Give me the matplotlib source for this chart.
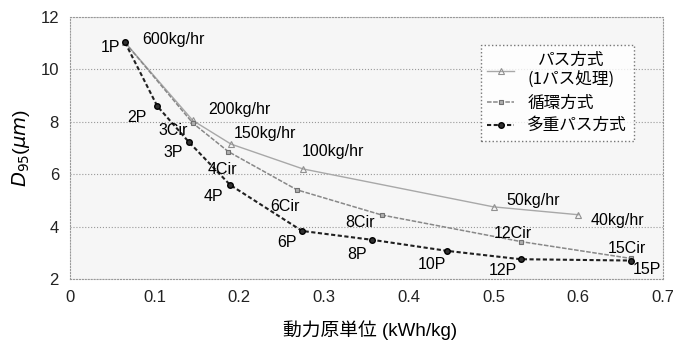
import matplotlib
matplotlib.use("Agg")
import matplotlib.pyplot as plt

# ---- data ----
pass_labels = ["600kg/hr", "200kg/hr", "150kg/hr", "100kg/hr", "50kg/hr", "40kg/hr"]
pass_x = [0.065, 0.145, 0.19, 0.275, 0.50, 0.60]
pass_y = [11.03, 8.05, 7.15, 6.20, 4.75, 4.45]

circ_labels = ["", "3Cir", "4Cir", "6Cir", "8Cir", "12Cir", "15Cir"]
circ_x = [0.065, 0.145, 0.187, 0.268, 0.368, 0.533, 0.662]
circ_y = [11.03, 7.95, 6.86, 5.40, 4.44, 3.42, 2.78]

multi_labels = ["1P", "2P", "3P", "4P", "6P", "8P", "10P", "12P", "15P"]
multi_x = [0.065, 0.103, 0.140, 0.189, 0.274, 0.357, 0.445, 0.532, 0.662]
multi_y = [11.03, 8.60, 7.24, 5.59, 3.83, 3.49, 3.07, 2.75, 2.70]

x_ticks = [0, 0.1, 0.2, 0.3, 0.4, 0.5, 0.6, 0.7]
x_ticklabels = ["0", "0.1", "0.2", "0.3", "0.4", "0.5", "0.6", "0.7"]
y_ticks = [2, 4, 6, 8, 10, 12]

legend_labels = ["パス方式\n(1パス処理)", "循環方式", "多重パス方式"]
xlabel = "動力原単位 (kWh/kg)"

# ---- label offsets (pixels) ----
pass_off = [(48, 3), (47, 11), (34, 11), (30, 17), (40, 6), (39, -6)]
circ_off = [(0, 0), (-20, -7), (-6, -18), (-12, -17), (-22, -8), (-9, 8), (-4, 10)]
multi_off = [(-15, -5), (-20, -11), (-15, -11), (-17, -12), (-15, -12),
             (-15, -15), (-15, -14), (-18, -11), (16, -9)]

plt.rcParams['font.family'] = ['Liberation Sans', 'Noto Sans CJK JP', 'DejaVu Sans']

fig = plt.figure(figsize=(6.73, 3.49), dpi=100)
ax = fig.add_axes([0.104, 0.201, 0.881, 0.750])
ax.set_facecolor('#f6f6f6')

l1, = ax.plot(pass_x, pass_y, color='#a8a8a8', lw=1.0, marker='^', ms=4,
              mfc='none', mec='#909090', mew=0.8)
l2, = ax.plot(circ_x, circ_y, color='#888888', lw=1.1, linestyle=(0, (3, 1)),
              marker='s', ms=3.5, mfc='#b0b0b0', mec='#707070', mew=0.8,
              markevery=list(range(1, len(circ_x))))
l3, = ax.plot(multi_x, multi_y, color='#202020', lw=1.5, linestyle=(0, (2, 1.2)),
              marker='o', ms=4, mfc='#303030', mec='black')

fs = 11.5
for lab, x, y, off in zip(pass_labels, pass_x, pass_y, pass_off):
    ax.annotate(lab, (x, y), xytext=off, textcoords='offset pixels',
                ha='center', va='center', fontsize=fs)
for lab, x, y, off in zip(circ_labels, circ_x, circ_y, circ_off):
    if lab:
        ax.annotate(lab, (x, y), xytext=off, textcoords='offset pixels',
                    ha='center', va='center', fontsize=fs)
for lab, x, y, off in zip(multi_labels, multi_x, multi_y, multi_off):
    ax.annotate(lab, (x, y), xytext=off, textcoords='offset pixels',
                ha='center', va='center', fontsize=fs)

ax.set_xlim(0, 0.7)
ax.set_ylim(2, 12)
ax.set_xticks(x_ticks)
ax.set_xticklabels(x_ticklabels)
ax.set_yticks(y_ticks)
ax.tick_params(length=0, labelsize=12, pad=8, labelcolor='#222222')
ax.grid(axis='y', linestyle=':', color='#999999', lw=0.8)
for s in ax.spines.values():
    s.set_linestyle(':')
    s.set_color('#999999')
    s.set_linewidth(0.8)

ax.set_ylabel(r'$D_{95}$($\mu m$)', fontsize=14, labelpad=6)
fig.text(370 / 673, 1 - 330 / 349, xlabel, ha='center', va='center',
         fontsize=13.5, family=['Liberation Sans', 'Noto Sans CJK JP', 'DejaVu Sans'])

leg = ax.legend([l1, l2, l3], legend_labels, loc='upper right',
                bbox_to_anchor=(0.965, 0.924), handlelength=1.6,
                frameon=True, fancybox=False, borderpad=0.4, labelspacing=0.35,
                handletextpad=0.8,
                prop={'family': ['Noto Sans CJK JP', 'DejaVu Sans'], 'size': 12})
leg.get_frame().set_linestyle(':')
leg.get_frame().set_edgecolor('#555555')
leg.get_frame().set_facecolor('white')
for t in leg.get_texts():
    t.set_multialignment('center')

fig.savefig('out.png', dpi=100)
